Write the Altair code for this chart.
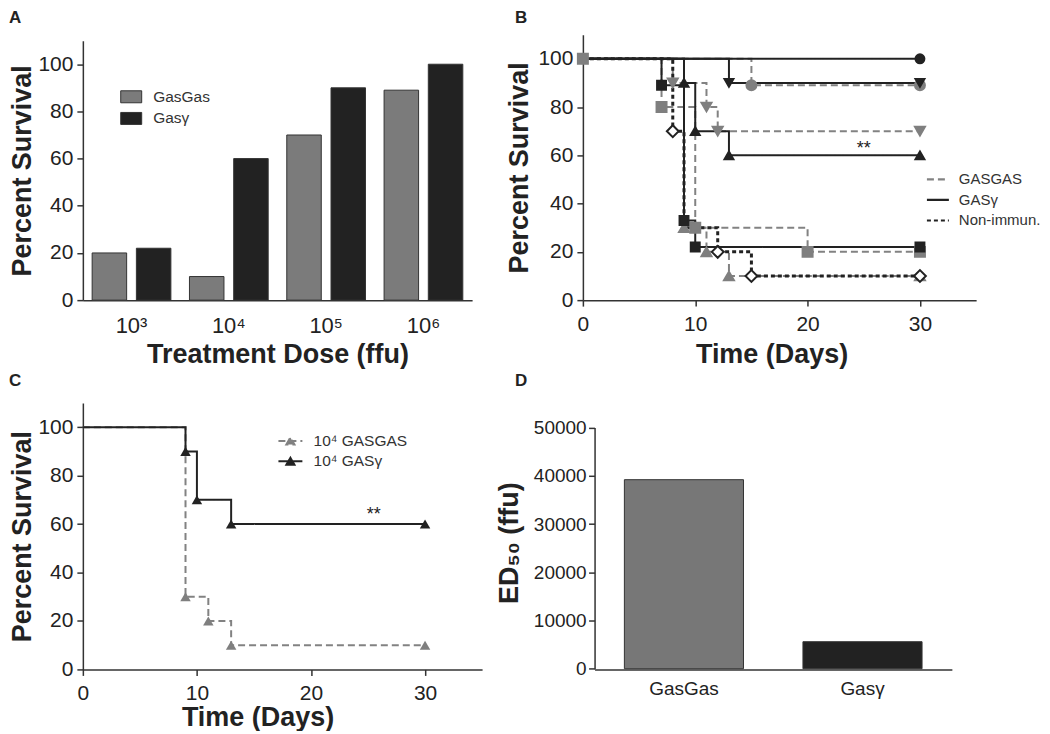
import altair as alt
import pandas as pd

FONT = "Liberation Sans"
INK = "#222222"
AXIS_INK = "#333333"
GRAY_BAR = "#7b7b7b"
DARK = "#222222"
LINE_GRAY = "#828282"
MARK_GRAY = "#7f7f7f"

# ---------------- Panel A: survival by dose ----------------
dose_labels = ["10³", "10⁴", "10⁵", "10⁶"]
vaccines_a = ["GasGas", "Gasγ"]
survival_gasgas = [20, 10, 70, 89]
survival_gasg = [22, 60, 90, 100]

# ---------------- Panel B: Kaplan-Meier curves ----------------
b_series = ["GASGAS 10³", "GASGAS 10⁴", "GASGAS 10⁵", "GASGAS 10⁶",
            "GASγ 10³", "GASγ 10⁴", "GASγ 10⁵", "GASγ 10⁶", "Non-immun."]
b_group_names = ["GASGAS", "GASγ", "Non-immun."]
b_groups = ["GASGAS"] * 4 + ["GASγ"] * 4 + ["Non-immun."]
b_dose_names = ["10³", "10⁴", "10⁵", "10⁶", "none"]
b_doses = ["10³", "10⁴", "10⁵", "10⁶"] * 2 + ["none"]
b_days = [
    [0, 7, 10, 20, 30],
    [0, 9, 11, 13, 30],
    [0, 8, 11, 12, 30],
    [0, 15, 30],
    [0, 7, 9, 10, 30],
    [0, 9, 10, 13, 30],
    [0, 13, 30],
    [0, 30],
    [0, 8, 9, 12, 15, 30],
]
b_surv = [
    [100, 80, 30, 20, 20],
    [100, 30, 20, 10, 10],
    [100, 90, 80, 70, 70],
    [100, 89, 89],
    [100, 89, 33, 22, 22],
    [100, 90, 70, 60, 60],
    [100, 90, 90],
    [100, 100],
    [100, 70, 30, 20, 10, 10],
]
b_marked = [
    [1, 1, 1, 1, 1],
    [0, 1, 1, 1, 1],
    [0, 1, 1, 1, 1],
    [0, 1, 1],
    [0, 1, 1, 1, 1],
    [0, 1, 1, 1, 1],
    [0, 1, 1],
    [0, 1],
    [0, 1, 0, 1, 1, 1],
]
b_star_day = [25]
b_star_surv = [60]

# ---------------- Panel C: 10^4 dose curves ----------------
c_group_names = ["10⁴ GASGAS", "10⁴ GASγ"]
c_days = [[0, 9, 11, 13, 30], [0, 9, 10, 13, 30]]
c_surv = [[100, 30, 20, 10, 10], [100, 90, 70, 60, 60]]
c_marked = [[0, 1, 1, 1, 1], [0, 1, 1, 1, 1]]
c_star_day = [25.5]
c_star_surv = [60]

# ---------------- Panel D: ED50 ----------------
d_groups = ["GasGas", "Gasγ"]
d_ed50 = [39200, 5600]

pct_ticks = [0, 20, 40, 60, 80, 100]
day_ticks = [0, 10, 20, 30]


def letter(ch, x, y):
    return alt.Chart(pd.DataFrame({"panel": [ch]})).mark_text(
        align="left", baseline="top", font=FONT, fontSize=17,
        fontWeight="bold", color=INK
    ).encode(text="panel:N", x=alt.value(x), y=alt.value(y))


# ---------- A ----------
dfA = pd.DataFrame({
    "dose": dose_labels * 2,
    "vaccine": [vaccines_a[0]] * 4 + [vaccines_a[1]] * 4,
    "survival": survival_gasgas + survival_gasg,
})
barsA = alt.Chart(dfA).mark_bar(stroke="#333333", strokeWidth=1).encode(
    x=alt.X("dose:N", sort=dose_labels,
            scale=alt.Scale(paddingInner=0, paddingOuter=0),
            axis=alt.Axis(title="Treatment Dose (ffu)", labelAngle=0, ticks=False,
                          tickSize=0, labelPadding=15.5, labelFontSize=22,
                          titleY=62, titleBaseline="alphabetic")),
    xOffset=alt.XOffset("vaccine:N", sort=vaccines_a,
                        scale=alt.Scale(paddingInner=0.22, paddingOuter=0.21)),
    y=alt.Y("survival:Q",
            scale=alt.Scale(domain=[0, 110], range=[266, 6], nice=False),
            axis=alt.Axis(title="Percent Survival", values=pct_ticks, tickSize=6,
                          labelPadding=4, titleX=-52, titleBaseline="alphabetic")),
    color=alt.Color("vaccine:N", sort=vaccines_a,
                    scale=alt.Scale(domain=vaccines_a, range=[GRAY_BAR, DARK]),
                    legend=alt.Legend(title=None, orient="none", legendX=40.7, legendY=54.5,
                                      symbolType="M-1.75,-1H1.75V1H-1.75Z", symbolSize=144,
                                      symbolStrokeColor="#333333", symbolStrokeWidth=1,
                                      labelOffset=14.3, rowPadding=3.7, labelFontSize=15.5,
                                      padding=0)),
)
panelA = alt.layer(barsA, letter("A", -74, -25)).properties(width=390, height=266)

# ---------- B ----------
rows = []
for name, grp, dose, days, surv, mk in zip(b_series, b_groups, b_doses, b_days, b_surv, b_marked):
    for t, s, m in zip(days, surv, mk):
        rows.append({"series": name, "group": grp, "dose": dose, "day": t, "surv": s, "marker": m})
dfB = pd.DataFrame(rows)

xB = alt.X("day:Q", scale=alt.Scale(domain=[0, 35], nice=False),
           axis=alt.Axis(title="Time (Days)", values=day_ticks, tickSize=6, labelPadding=7,
                         labelFlush=False, titleX=189, titleY=62, titleBaseline="alphabetic"))
yB = alt.Y("surv:Q", scale=alt.Scale(domain=[0, 110], nice=False),
           axis=alt.Axis(title="Percent Survival", values=pct_ticks, tickSize=6, labelPadding=4,
                         titleX=-55, titleBaseline="alphabetic"))
legB = alt.Legend(title=None, orient="none", legendX=348.2, legendY=137.5,
                  symbolType="M-1.833,0H1.833", symbolSize=144, symbolStrokeWidth=2.2,
                  labelOffset=13.5, rowPadding=4.6, labelFontSize=15, padding=0)
linesB = alt.Chart(dfB).mark_line(interpolate="step-after").encode(
    x=xB, y=yB, detail="series:N",
    color=alt.Color("group:N", scale=alt.Scale(domain=b_group_names, range=[LINE_GRAY, DARK, DARK]),
                    legend=legB),
    strokeDash=alt.StrokeDash("group:N", scale=alt.Scale(domain=b_group_names,
                                                         range=[[7, 4], [1, 0], [4, 3]]),
                              legend=legB),
    strokeWidth=alt.condition("datum.group == 'Non-immun.'", alt.value(3), alt.value(2)),
)
marker_size = (
    alt.when("datum.dose == 'none'").then(alt.value(140))
    .when("datum.group == 'GASGAS'").then(alt.value(100))
    .otherwise(alt.value(80))
)
pointsB = alt.Chart(dfB).transform_filter("datum.marker == 1").mark_point(
    filled=True, opacity=1, strokeWidth=2
).encode(
    x=xB, y=yB,
    shape=alt.Shape("dose:N", scale=alt.Scale(domain=b_dose_names,
                                              range=["square", "triangle-up", "triangle-down",
                                                     "circle", "diamond"]), legend=None),
    fill=alt.Fill("group:N", scale=alt.Scale(domain=b_group_names, range=[MARK_GRAY, DARK, "white"]),
                  legend=None),
    stroke=alt.Stroke("group:N", scale=alt.Scale(domain=b_group_names, range=[MARK_GRAY, DARK, DARK]),
                      legend=None),
    size=marker_size,
)
starB = alt.Chart(pd.DataFrame({"day": b_star_day, "surv": b_star_surv, "label": ["**"]})).mark_text(
    baseline="alphabetic", fontSize=18, font=FONT, color=INK, dy=-1
).encode(x=xB, y=yB, text="label:N")
panelB = alt.layer(linesB, pointsB, starB, letter("B", -68, -25)).properties(width=394, height=266)

# ---------- C ----------
rows = []
for grp, days, surv, mk in zip(c_group_names, c_days, c_surv, c_marked):
    for t, s, m in zip(days, surv, mk):
        rows.append({"group": grp, "day": t, "surv": s, "marker": m})
dfC = pd.DataFrame(rows)
xC = alt.X("day:Q", scale=alt.Scale(domain=[0, 35], nice=False),
           axis=alt.Axis(title="Time (Days)", values=day_ticks, tickSize=6, labelPadding=7,
                         labelFlush=False, titleX=175, titleY=56, titleBaseline="alphabetic"))
yC = alt.Y("surv:Q", scale=alt.Scale(domain=[0, 110], nice=False),
           axis=alt.Axis(title="Percent Survival", values=pct_ticks, tickSize=6, labelPadding=4,
                         titleX=-52, titleBaseline="alphabetic"))
legC = alt.Legend(title=None, orient="none", legendX=200.2, legendY=30.5,
                  symbolType="M-2,0H2M-0.67,0.55L0,-0.6L0.67,0.55Z", symbolSize=144,
                  symbolStrokeWidth=2, labelOffset=15.5, rowPadding=3.3, labelFontSize=15.5,
                  padding=0)
linesC = alt.Chart(dfC).mark_line(interpolate="step-after", strokeWidth=2).encode(
    x=xC, y=yC, detail="group:N",
    color=alt.Color("group:N", scale=alt.Scale(domain=c_group_names, range=[LINE_GRAY, DARK]),
                    legend=legC),
    strokeDash=alt.StrokeDash("group:N", scale=alt.Scale(domain=c_group_names,
                                                         range=[[7, 4], [1, 0]]),
                              legend=legC),
)
pointsC = alt.Chart(dfC).transform_filter("datum.marker == 1").mark_point(
    filled=True, opacity=1, shape="triangle-up", size=110
).encode(
    x=xC, y=yC,
    fill=alt.Fill("group:N", scale=alt.Scale(domain=c_group_names, range=[MARK_GRAY, DARK]),
                  legend=legC),
)
starC = alt.Chart(pd.DataFrame({"day": c_star_day, "surv": c_star_surv, "label": ["**"]})).mark_text(
    baseline="alphabetic", fontSize=18, font=FONT, color=INK, dy=-4
).encode(x=xC, y=yC, text="label:N")
panelC = alt.layer(linesC, pointsC, starC, letter("C", -74, -30)).properties(width=400, height=267)

# ---------- D ----------
dfD = pd.DataFrame({"vaccine": d_groups, "ed50": d_ed50})
barsD = alt.Chart(dfD).mark_bar(stroke="#333333", strokeWidth=1).encode(
    x=alt.X("vaccine:N", sort=d_groups,
            scale=alt.Scale(range=[11.7, 369.7], paddingInner=0.333, paddingOuter=0.167),
            axis=alt.Axis(title=None, labelAngle=0, ticks=False, tickSize=0,
                          labelPadding=10.3, labelFontSize=19)),
    y=alt.Y("ed50:Q", scale=alt.Scale(domain=[0, 50000], range=[266.3, 24.7], nice=False),
            axis=alt.Axis(title="ED₅₀ (ffu)", values=[0, 10000, 20000, 30000, 40000, 50000],
                          format="d", offset=-11.7, tickSize=6, labelPadding=2.5,
                          labelFontSize=19, titleX=-77, titleY=140,
                          titleBaseline="alphabetic")),
    color=alt.Color("vaccine:N", scale=alt.Scale(domain=d_groups, range=["#777777", DARK]),
                    legend=None),
)
panelD = alt.layer(barsD, letter("D", -68, -30)).properties(width=370, height=267)

chart = alt.concat(
    panelA, panelB, panelC, panelD,
    columns=2, spacing={"row": 103, "column": 101}, bounds="flush"
).resolve_scale(
    color="independent", fill="independent", stroke="independent",
    strokeDash="independent", shape="independent", xOffset="independent",
    x="independent", y="independent"
).resolve_legend(
    color="independent", fill="independent", strokeDash="independent"
).properties(
    padding=0
).configure(
    font=FONT
).configure_view(
    strokeWidth=0
).configure_axis(
    labelFont=FONT, titleFont=FONT, labelColor=INK, titleColor=INK,
    labelFontSize=21, titleFontSize=27, titleFontWeight="bold",
    domainColor=AXIS_INK, tickColor=AXIS_INK, domainWidth=1.5, tickWidth=1.5,
    grid=False
).configure_legend(
    labelFont=FONT, labelColor="#333333"
)

chart.save("out.html", embed_options={"renderer": "svg", "actions": False})
